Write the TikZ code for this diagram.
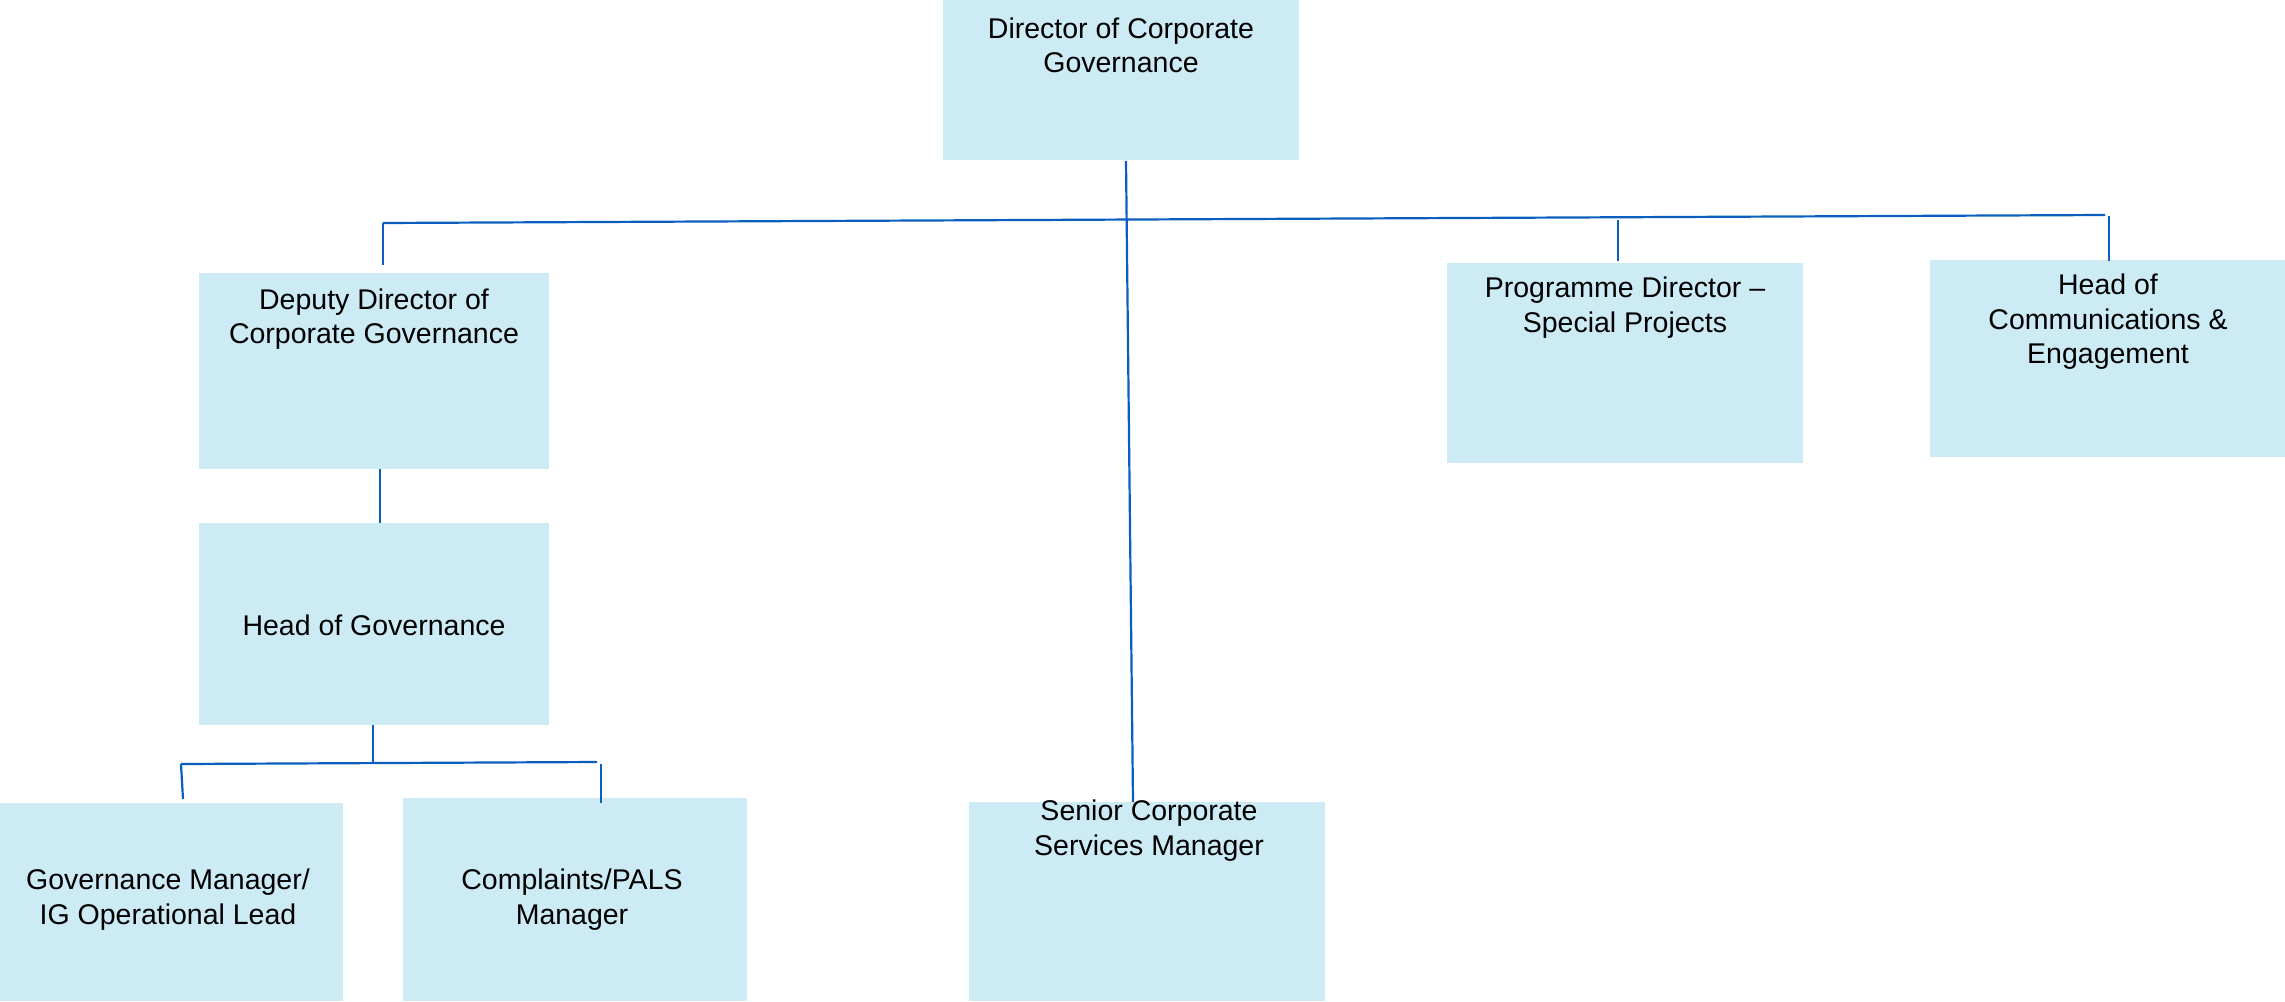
\documentclass[tikz,border=0pt]{standalone}
\usepackage{fontspec}
\setmainfont{Liberation Sans}
\definecolor{boxfill}{RGB}{204,235,245}
\definecolor{connblue}{RGB}{10,95,190}
\tikzset{
  box/.style={fill=boxfill, draw=none, inner sep=0pt, outer sep=0pt, anchor=north west},
  lbl/.style={align=center, inner sep=0pt, text=black, font=\fontsize{28.5}{34.5}\selectfont},
  conn/.style={draw=connblue, line width=2.2pt}
}
\begin{document}
\begin{tikzpicture}[x=1pt,y=-1pt]
\useasboundingbox (0,0) rectangle (2285,1001);
% boxes
\node[box, minimum width=356pt, minimum height=160pt] (dir) at (943,0) {};
\node[box, minimum width=350pt, minimum height=196pt] (dep) at (199,273) {};
\node[box, minimum width=350pt, minimum height=202pt] (hog) at (199,523) {};
\node[box, minimum width=343pt, minimum height=198pt] (gm) at (0,803) {};
\node[box, minimum width=344pt, minimum height=203pt] (cp) at (403,798) {};
\node[box, minimum width=356pt, minimum height=199pt] (sen) at (969,802) {};
\node[box, minimum width=356pt, minimum height=200pt] (prog) at (1447,263) {};
\node[box, minimum width=355pt, minimum height=197pt] (com) at (1930,260) {};
% labels
\node[lbl] (tdir) at (1121,45.5) {Director of Corporate\\Governance};
\node[lbl] (tdep) at (374,319) {Deputy Director of\\Corporate Governance};
\node[lbl] (thog) at (374,625) {Head of Governance};
\node[lbl] (tgm) at (168,899.5) {Governance Manager/\\IG Operational Lead};
\node[lbl] (tcp) at (572,899.5) {Complaints/PALS\\Manager};
\node[lbl] (tsen) at (1149,830.5) {Senior Corporate\\Services Manager};
\node[lbl] (tprog) at (1625,307.5) {Programme Director --\\Special Projects};
\node[lbl] (tcom) at (2108,321.7) {Head of\\Communications \&\\Engagement};
% bus coordinates
\coordinate (busL) at (383,223);
\coordinate (busR) at (2105,215);
\coordinate (pT) at (1618,220);
\coordinate (cT) at (2109,216);
\coordinate (lbL) at (181,764);
\coordinate (lbR) at (597,762);
\coordinate (lbM) at (373,763);
\coordinate (lbR2) at (601,764);
% connectors
\draw[conn] (busL) -- (busR);
\draw[conn] (busL) -- ([xshift=9pt,yshift=8pt]dep.north);
\draw[conn] (pT) -- ([xshift=-7pt,yshift=2pt]prog.north);
\draw[conn] (cT) -- ([xshift=1.5pt,yshift=-1pt]com.north);
\draw[conn] ([xshift=5pt,yshift=-1pt]dir.south) -- ([xshift=-14pt]sen.north);
\draw[conn] ([xshift=6pt]dep.south) -- ([xshift=6pt]hog.north);
\draw[conn] ([xshift=-1pt]hog.south) -- (lbM);
\draw[conn] (lbL) -- (lbR);
\draw[conn] (lbL) -- ([xshift=11.5pt,yshift=4pt]gm.north);
\draw[conn] (lbR2) -- ([xshift=26pt,yshift=-5pt]cp.north);
\end{tikzpicture}
\end{document}
